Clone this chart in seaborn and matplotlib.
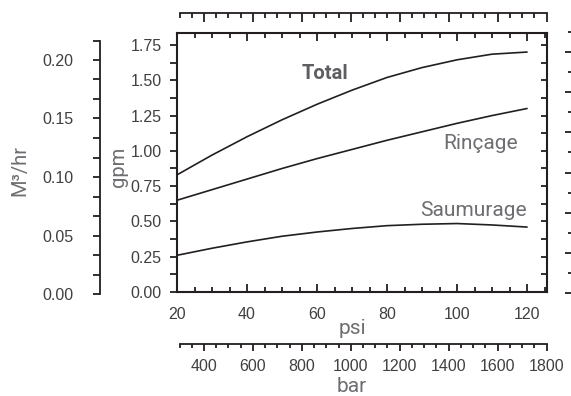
import numpy as np
import pandas as pd
import seaborn as sns
from matplotlib import pyplot as plt
from matplotlib.ticker import MultipleLocator, NullFormatter, FormatStrFormatter

# flow curves (gpm vs psi)
psi = [20, 30, 40, 50, 60, 70, 80, 90, 100, 110, 120]
total = [0.83, 0.97, 1.10, 1.22, 1.33, 1.43, 1.52, 1.59, 1.645, 1.685, 1.70]
rincage = [0.65, 0.725, 0.80, 0.875, 0.945, 1.01, 1.075, 1.135, 1.195, 1.25, 1.30]
saumurage = [0.26, 0.31, 0.355, 0.395, 0.425, 0.45, 0.47, 0.48, 0.485, 0.475, 0.46]

series_names = ['Total', 'Rinçage', 'Saumurage']
bar_ticks = [400, 600, 800, 1000, 1200, 1400, 1600, 1800]

W, H = 571, 396
TICK_FONT = ['Liberation Sans', 'DejaVu Sans']
LABEL_FONT = ['Roboto', 'DejaVu Sans']
TICK_COLOR = '#404040'
LABEL_COLOR = '#6d6e71'
LINE_COLOR = '#231f20'


def px_axes(fig, x0, y0, x1, y1):
    # axes from pixel box (top-left origin)
    return fig.add_axes([x0 / W, (H - y1) / H, (x1 - x0) / W, (y1 - y0) / H])


def ruler_only(ax, keep):
    for side in ['left', 'right', 'top', 'bottom']:
        ax.spines[side].set_visible(side == keep)
        ax.spines[side].set_linewidth(1.3)
        ax.spines[side].set_color(LINE_COLOR)
    ax.patch.set_alpha(0)


sns.set_style('white')
plt.rcParams['font.family'] = TICK_FONT

df = pd.DataFrame({'psi': psi * 3,
                   'gpm': total + rincage + saumurage,
                   'serie': sum([[n] * len(psi) for n in series_names], [])})

fig = plt.figure(figsize=(W / 100, H / 100), dpi=100)

# main chart
ax = px_axes(fig, 177, 33, 547, 292)
sns.lineplot(data=df, x='psi', y='gpm', hue='serie', ax=ax, legend=False,
             palette=[LINE_COLOR] * 3, linewidth=1.2)
ax.set_xlim(20, 125.7)
ax.set_ylim(0, 1.835)
ax.xaxis.set_major_locator(MultipleLocator(20))
ax.xaxis.set_minor_locator(MultipleLocator(5))
ax.yaxis.set_major_locator(MultipleLocator(0.25))
ax.yaxis.set_minor_locator(MultipleLocator(0.125))
ax.yaxis.set_major_formatter(FormatStrFormatter('%.2f'))
for side in ax.spines.values():
    side.set_visible(True)
    side.set_linewidth(1.5)
    side.set_color(LINE_COLOR)
ax.tick_params(axis='x', which='both', direction='in', top=True, bottom=True,
               color=LINE_COLOR, width=1.3, labelsize=11.5, labelcolor=TICK_COLOR, pad=11)
ax.tick_params(axis='x', which='major', length=6)
ax.tick_params(axis='x', which='minor', length=3.5)
ax.tick_params(axis='y', which='both', left=True, right=False, direction='out',
               length=5, width=1.3, color=LINE_COLOR, labelsize=11.5,
               labelcolor=TICK_COLOR, pad=6)
ax.set_xlabel('')
ax.set_ylabel('gpm', fontsize=14.5, color=LABEL_COLOR, family=LABEL_FONT)
ax.yaxis.set_label_coords((128 - 177) / 370, (292 - 167) / 259)

# inward ticks on right spine
axr = ax.twinx()
axr.set_ylim(ax.get_ylim())
axr.yaxis.set_major_locator(MultipleLocator(0.125))
axr.yaxis.set_major_formatter(NullFormatter())
axr.tick_params(axis='y', right=True, direction='in', length=4, width=1.3, color=LINE_COLOR)
for side in axr.spines.values():
    side.set_visible(False)

# curve names
ax.text(62.3, 1.55, 'Total', fontsize=14.5, fontweight='bold', color='#5d5e61',
        family=LABEL_FONT, ha='center', va='center')
ax.text(117.5, 1.055, 'Rinçage', fontsize=15, color=LABEL_COLOR,
        family=LABEL_FONT, ha='right', va='center')
ax.text(120, 0.58, 'Saumurage', fontsize=15, color=LABEL_COLOR,
        family=LABEL_FONT, ha='right', va='center')

fig.text(352 / W, 1 - 329 / H, 'psi', fontsize=15, color=LABEL_COLOR,
         family=LABEL_FONT, ha='center', va='center')

# top ruler (bar scale, no labels)
axt = px_axes(fig, 179.5, 12.5, 546.5, 30)
ruler_only(axt, 'top')
axt.set_xlim(300, 1800)
axt.set_yticks([])
axt.xaxis.set_major_locator(MultipleLocator(200))
axt.xaxis.set_minor_locator(MultipleLocator(50))
axt.tick_params(axis='x', which='both', top=True, bottom=False, labeltop=False,
                labelbottom=False, direction='in', width=1.3, color=LINE_COLOR)
axt.tick_params(axis='x', which='major', length=6.5)
axt.tick_params(axis='x', which='minor', length=3.8)

# bottom ruler (bar)
axb = px_axes(fig, 179.5, 344, 546.5, 360)
ruler_only(axb, 'top')
axb.set_xlim(300, 1800)
axb.set_yticks([])
axb.set_xticks(bar_ticks)
axb.xaxis.set_minor_locator(MultipleLocator(50))
axb.tick_params(axis='x', which='both', top=True, bottom=False, labeltop=False,
                labelbottom=True, direction='in', width=1.3, color=LINE_COLOR,
                labelsize=11.5, labelcolor=TICK_COLOR)
axb.tick_params(axis='x', which='major', length=5, pad=-1)
axb.tick_params(axis='x', which='minor', length=3)
fig.text(352 / W, 1 - 386 / H, 'bar', fontsize=15, color=LABEL_COLOR,
         family=LABEL_FONT, ha='center', va='center')

# left ruler (M3/hr)
axm = px_axes(fig, 100, 40.5, 130, 294)
ruler_only(axm, 'left')
axm.set_xticks([])
axm.set_ylim(0, 13 / 60)
axm.yaxis.set_major_locator(MultipleLocator(0.05))
axm.yaxis.set_minor_locator(MultipleLocator(1 / 60))
axm.yaxis.set_major_formatter(FormatStrFormatter('%.2f'))
axm.tick_params(axis='y', which='both', left=True, direction='out', length=5, width=1.3,
                color=LINE_COLOR, labelsize=11.5, labelcolor=TICK_COLOR, pad=14)
fig.text(20 / W, 1 - 170 / H, 'M³/hr', fontsize=14.5, color=LABEL_COLOR,
         family=LABEL_FONT, ha='center', va='center', rotation=90)

# right ruler (cut by the edge)
axe = px_axes(fig, 560, 32, 573, 293)
ruler_only(axe, 'right')
axe.spines['right'].set_visible(False)
axe.set_xticks([])
axe.set_ylim(0, 13)
axe.yaxis.set_major_locator(MultipleLocator(2))
axe.yaxis.set_minor_locator(MultipleLocator(1))
axe.tick_params(axis='y', which='both', left=False, right=True, labelleft=False,
                labelright=False, direction='in', width=1.3, color=LINE_COLOR)
axe.tick_params(axis='y', which='major', length=6)
axe.tick_params(axis='y', which='minor', length=3.5)

fig.savefig('out.png', dpi=100)
